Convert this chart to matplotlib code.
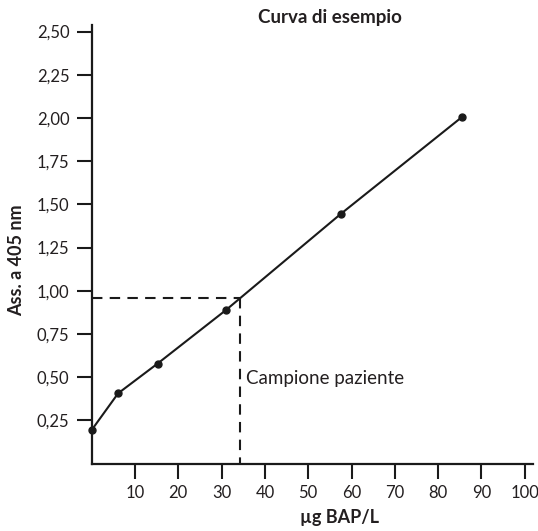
import matplotlib
matplotlib.use("Agg")
import matplotlib.pyplot as plt

conc = [0, 6.1, 15.2, 31.0, 57.5, 85.4]
absorb = [0.194, 0.406, 0.578, 0.888, 1.444, 2.003]
sample_abs = 0.959
sample_conc = 34.2
xticks = [10, 20, 30, 40, 50, 60, 70, 80, 90, 100]
xticklabels = ["10", "20", "30", "40", "50", "60", "70", "80", "90", "100"]
yticks = [0.25, 0.5, 0.75, 1.0, 1.25, 1.5, 1.75, 2.0, 2.25, 2.5]
yticklabels = ["0,25", "0,50", "0,75", "1,00", "1,25", "1,50", "1,75", "2,00", "2,25", "2,50"]

plt.rcParams['font.family'] = ['Lato', 'DejaVu Sans']
W, H = 538, 531
fig = plt.figure(figsize=(W/100, H/100), dpi=100)
ax = fig.add_axes([91.7/W, (H-463.5)/H, (533.4-91.7)/W, (463.5-24.6)/H])
ax.set_xlim(0, 102)
ax.set_ylim(0, 2.54)
for s in ['top', 'right']:
    ax.spines[s].set_visible(False)
for s in ['left', 'bottom']:
    ax.spines[s].set_linewidth(1.6)
    ax.spines[s].set_color('#1a1a1a')
ax.set_xticks(xticks)
ax.set_xticklabels(xticklabels)
ax.set_yticks(yticks)
ax.set_yticklabels(yticklabels)
ax.tick_params(length=10.5, width=1.5, color='#1a1a1a', labelsize=12, labelcolor='#231f20')
ax.tick_params(axis='y', pad=5.5)
ax.tick_params(axis='x', pad=5)

ax.plot(conc, absorb, color='#1a1a1a', lw=1.5, marker='o', ms=5, clip_on=False, zorder=3)
ax.plot([0, sample_conc], [sample_abs, sample_abs], color='#1a1a1a', lw=1.5, ls=(0, (5, 3.5)))
ax.plot([sample_conc, sample_conc], [sample_abs, 0], color='#1a1a1a', lw=1.5, ls=(0, (5, 3.5)))
ax.text(sample_conc + 1.5, 0.49, "Campione paziente", fontsize=13.5, va='center', ha='left', color='#231f20')

fig.text(330/W, 1 - 18/H, "Curva di esempio", fontsize=13.5, fontweight='bold', ha='center', va='center', color='#231f20')
fig.text(339/W, 1 - 517/H, "µg BAP/L", fontsize=13, fontweight='bold', ha='center', va='center', color='#231f20')
fig.text(17/W, 1 - 260/H, "Ass. a 405 nm", fontsize=13, fontweight='bold', ha='center', va='center', rotation=90, color='#231f20')

fig.savefig("out.png", dpi=100)
